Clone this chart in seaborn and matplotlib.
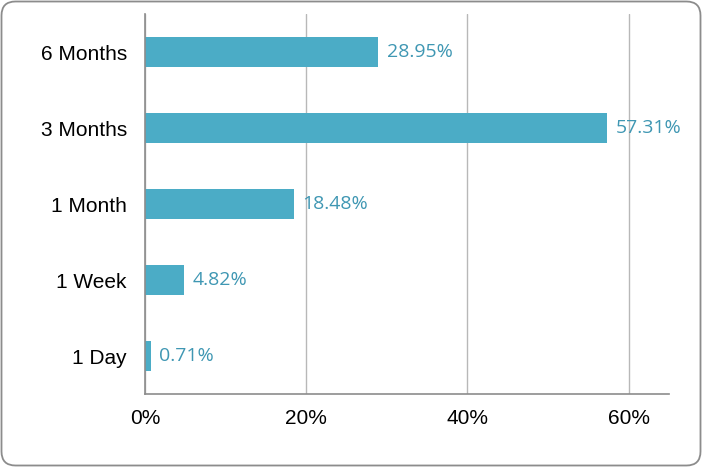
import matplotlib
matplotlib.use("Agg")
import matplotlib.pyplot as plt
import matplotlib.patches as mpatches
import seaborn as sns
import pandas as pd

# data
periods = ['6 Months', '3 Months', '1 Month', '1 Week', '1 Day']
shares = [28.95, 57.31, 18.48, 4.82, 0.71]
x_ticks = [0, 20, 40, 60]
x_tick_labels = ['0%', '20%', '40%', '60%']

bar_color = '#4BACC6'
label_color = '#3F97B3'

df = pd.DataFrame({'period': periods, 'share': shares})

sns.set_style('white')
plt.rcParams['font.family'] = ['Liberation Sans', 'DejaVu Sans']
plt.rcParams['text.color'] = 'black'
plt.rcParams['xtick.color'] = 'black'
plt.rcParams['ytick.color'] = 'black'

fig = plt.figure(figsize=(7.02, 4.67), dpi=100)
ax = fig.add_axes([0.2066, 0.1563, 0.953 - 0.2066, 0.970 - 0.1563])

sns.barplot(data=df, x='share', y='period', orient='h', color=bar_color,
            width=0.4, saturation=1, linewidth=0, ax=ax, zorder=3)

# value labels
for container in ax.containers:
    ax.bar_label(container, labels=[f'{v:.2f}%' for v in shares], padding=6,
                 color=label_color, fontsize=14, family='Open Sans')

ax.set_xlim(0, 65)
ax.set_ylim(4.5, -0.5)
ax.set_xticks(x_ticks)
ax.set_xticklabels(x_tick_labels, fontsize=15)
for lbl in ax.get_yticklabels():
    lbl.set_fontsize(15)
ax.tick_params(axis='y', length=0, pad=13, labelcolor='black')
ax.tick_params(axis='x', length=0, pad=11, labelcolor='black')
ax.set_xlabel('')
ax.set_ylabel('')

ax.grid(axis='x', color='#B8B8B8', linewidth=1, zorder=0)
ax.grid(axis='y', visible=False)
for side in ['top', 'right']:
    ax.spines[side].set_visible(False)
for side in ['left', 'bottom']:
    ax.spines[side].set_color('#8C8C8C')
    ax.spines[side].set_linewidth(1.2)
    ax.spines[side].set_zorder(4)

# rounded outer border
border = mpatches.FancyBboxPatch((1.5, 1.5), 699, 464,
                                 boxstyle='round,pad=0,rounding_size=14',
                                 transform=None, fill=False,
                                 edgecolor='#8C8C8C', linewidth=1.3)
fig.patches.append(border)

fig.savefig('out.png', dpi=100)
